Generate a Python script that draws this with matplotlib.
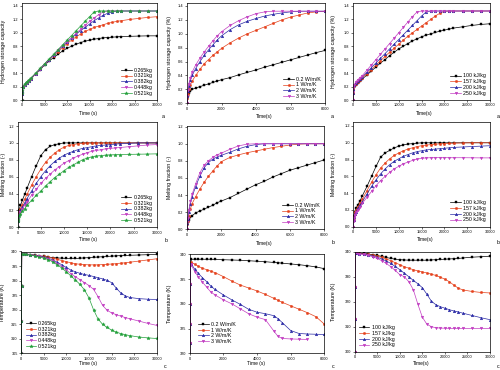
import matplotlib
matplotlib.use('Agg')
import matplotlib.pyplot as plt
from matplotlib.ticker import FormatStrFormatter, FixedLocator

plt.rcParams['font.family'] = ['Liberation Sans', 'DejaVu Sans']
plt.rcParams['axes.linewidth'] = 0.5

nan = float('nan')

# ---------------- legend labels ----------------
mass_labels = ['0.265kg', '0.321kg', '0.382kg', '0.448kg', '0.521kg']
cond_labels = ['0.2 W/m/K', '1 W/m/K', '2 W/m/K', '3 W/m/K']
heat_labels = ['100 kJ/kg', '157 kJ/kg', '200 kJ/kg', '250 kJ/kg']

# ---------------- time grids ----------------
T_LONG = [0, 50, 100, 300, 600, 1000, 1500, 2000, 3000, 4000, 5000, 6000, 7000, 8000,
          9000, 10000, 11000, 12000, 13000, 14000, 15000, 16000, 17000, 18000, 19000,
          20000, 21000, 22000, 24000, 26000, 28000, 30000]
T_SHORT = [0, 25, 50, 100, 200, 300, 500, 750, 1000, 1250, 1500, 1750, 2000, 2500, 3000,
           3500, 4000, 4500, 5000, 5500, 6000, 6500, 7000, 7500, 8000]
T_TEMP = [0, 30, 60, 100, 500, 1000, 2000, 3000, 4000, 5000, 6000, 7000, 8000, 9000,
          10000, 11000, 12000, 13000, 14000, 15000, 16000, 17000, 18000, 19000, 20000,
          21000, 22000, 23000, 24000, 26000, 28000, 30000]
T_TEMP2 = [0, 10, 20, 30, 40, 50, 100, 300, 500, 750, 1000, 1250, 1500, 2000, 2500, 3000,
           3500, 4000, 4500, 5000, 5250, 5500, 6000, 6500, 7000, 7500, 8000]

# ---------------- (a) hydrogen storage capacity ----------------
a1_265 = [0, 0.09, 0.14, 0.19, 0.23, 0.26, 0.29, 0.32, 0.39, 0.45,
          0.52, 0.58, 0.63, 0.68, 0.73, 0.77, 0.80, 0.83, 0.855, 0.875,
          0.89, 0.905, 0.915, 0.925, 0.93, 0.935, 0.94, 0.945, 0.948, 0.952, 0.955, 0.955]
a1_321 = [0, 0.09, 0.14, 0.19, 0.23, 0.26, 0.29, 0.32, 0.39, 0.46,
          0.53, 0.60, 0.66, 0.72, 0.78, 0.84, 0.89, 0.94, 0.98, 1.02,
          1.05, 1.08, 1.10, 1.12, 1.14, 1.155, 1.17, 1.18, 1.20, 1.215, 1.23, 1.24]
a1_382 = [0, 0.09, 0.14, 0.19, 0.23, 0.26, 0.29, 0.32, 0.39, 0.46,
          0.53, 0.60, 0.67, 0.74, 0.80, 0.86, 0.92, 0.98, 1.03, 1.08,
          1.13, 1.18, 1.22, 1.26, 1.29, 1.31, 1.325, 1.325, 1.325, 1.325, 1.325, 1.325]
a1_448 = [0, 0.09, 0.14, 0.19, 0.23, 0.26, 0.29, 0.32, 0.39, 0.46,
          0.53, 0.60, 0.67, 0.74, 0.81, 0.87, 0.93, 0.99, 1.05, 1.11,
          1.17, 1.22, 1.27, 1.31, 1.325, 1.325, 1.325, 1.325, 1.325, 1.325, 1.325, 1.325]
a1_521 = [0, 0.10, 0.15, 0.20, 0.24, 0.27, 0.30, 0.33, 0.40, 0.47,
          0.54, 0.61, 0.68, 0.75, 0.82, 0.89, 0.96, 1.03, 1.10, 1.17,
          1.24, 1.31, 1.325, 1.325, 1.325, 1.325, 1.325, 1.325, 1.325, 1.325, 1.325, 1.325]

a2_02 = [0, 0.06, 0.10, 0.15, 0.18, 0.20, 0.22, 0.24, 0.26, 0.28, 0.30, 0.32, 0.34,
         0.37, 0.41, 0.445, 0.48, 0.52, 0.555, 0.59, 0.625, 0.66, 0.695, 0.73, 0.76]
a2_1 = [0, 0.08, 0.13, 0.20, 0.27, 0.32, 0.40, 0.49, 0.57, 0.63, 0.69, 0.74, 0.79,
        0.87, 0.94, 1.00, 1.05, 1.10, 1.15, 1.20, 1.24, 1.27, 1.30, 1.315, 1.325]
a2_2 = [0, 0.10, 0.17, 0.25, 0.33, 0.40, 0.50, 0.60, 0.69, 0.77, 0.84, 0.91, 0.97,
        1.06, 1.13, 1.18, 1.22, 1.255, 1.28, 1.30, 1.315, 1.325, 1.325, 1.325, 1.325]
a2_3 = [0, 0.11, 0.19, 0.28, 0.37, 0.45, 0.55, 0.65, 0.74, 0.82, 0.90, 0.97, 1.03,
        1.12, 1.19, 1.245, 1.29, 1.315, 1.325, 1.325, 1.325, 1.325, 1.325, 1.325, 1.325]

a3_100 = [0, 0.10, 0.15, 0.20, 0.23, 0.26, 0.29, 0.31, 0.37, 0.43,
          0.49, 0.55, 0.60, 0.66, 0.71, 0.76, 0.80, 0.84, 0.88, 0.91,
          0.94, 0.965, 0.985, 1.005, 1.025, 1.04, 1.055, 1.07, 1.09, 1.11, 1.125, 1.135]
a3_157 = [0, 0.10, 0.16, 0.21, 0.24, 0.27, 0.30, 0.33, 0.39, 0.45,
          0.52, 0.58, 0.65, 0.71, 0.77, 0.83, 0.89, 0.95, 1.00, 1.05,
          1.10, 1.15, 1.20, 1.25, 1.29, 1.32, 1.325, 1.325, 1.325, 1.325, 1.325, 1.325]
a3_200 = [0, 0.11, 0.17, 0.22, 0.25, 0.28, 0.31, 0.34, 0.41, 0.48,
          0.55, 0.62, 0.69, 0.76, 0.83, 0.90, 0.97, 1.04, 1.11, 1.18,
          1.25, 1.31, 1.325, 1.325, 1.325, 1.325, 1.325, 1.325, 1.325, 1.325, 1.325, 1.325]
a3_250 = [0, 0.12, 0.18, 0.23, 0.27, 0.30, 0.33, 0.36, 0.44, 0.52,
          0.60, 0.68, 0.76, 0.84, 0.92, 1.00, 1.08, 1.16, 1.24, 1.31,
          1.325, 1.325, 1.325, 1.325, 1.325, 1.325, 1.325, 1.325, 1.325, 1.325, 1.325, 1.325]

# ---------------- (b) melting fraction ----------------
b1_265 = [0, 0.10, 0.15, 0.21, 0.26, 0.32, 0.39, 0.46, 0.60, 0.73,
          0.85, 0.92, 0.96, 0.98, 0.99, 1.0, 1.0, 1.0, 1.0, 1.0,
          1.0, 1.0, 1.0, 1.0, 1.0, 1.0, 1.0, 1.0, 1.0, 1.0, 1.0, 1.0]
b1_321 = [0, 0.09, 0.13, 0.18, 0.22, 0.27, 0.33, 0.39, 0.50, 0.60,
          0.69, 0.77, 0.83, 0.88, 0.92, 0.95, 0.97, 0.98, 0.99, 0.995,
          1.0, 1.0, 1.0, 1.0, 1.0, 1.0, 1.0, 1.0, 1.0, 1.0, 1.0, 1.0]
b1_382 = [0, 0.08, 0.12, 0.16, 0.20, 0.24, 0.29, 0.34, 0.43, 0.52,
          0.60, 0.67, 0.73, 0.78, 0.82, 0.855, 0.88, 0.90, 0.92, 0.935,
          0.945, 0.955, 0.965, 0.97, 0.975, 0.98, 0.985, 0.99, 0.995, 1.0, 1.0, 1.0]
b1_448 = [0, 0.07, 0.11, 0.15, 0.18, 0.22, 0.26, 0.30, 0.38, 0.45,
          0.52, 0.58, 0.63, 0.68, 0.72, 0.76, 0.79, 0.82, 0.845, 0.865,
          0.885, 0.90, 0.91, 0.92, 0.93, 0.935, 0.94, 0.945, 0.955, 0.965, 0.975, 0.98]
b1_521 = [0, 0.07, 0.10, 0.13, 0.16, 0.19, 0.22, 0.26, 0.32, 0.38,
          0.43, 0.49, 0.54, 0.59, 0.63, 0.67, 0.71, 0.74, 0.77, 0.80,
          0.82, 0.835, 0.845, 0.85, 0.855, 0.858, 0.86, 0.862, 0.864, 0.866, 0.868, 0.87]

b2_02 = [0, 0.05, 0.08, 0.11, 0.14, 0.16, 0.19, 0.215, 0.235, 0.26, 0.28, 0.31, 0.33,
         0.37, 0.42, 0.47, 0.52, 0.56, 0.61, 0.65, 0.69, 0.72, 0.75, 0.78, 0.81]
b2_1 = [0, 0.06, 0.10, 0.16, 0.24, 0.30, 0.38, 0.47, 0.55, 0.62, 0.68, 0.74, 0.79,
        0.84, 0.87, 0.895, 0.915, 0.935, 0.955, 0.97, 0.985, 0.995, 1.0, 1.0, 1.0]
b2_2 = [0, 0.07, 0.12, 0.20, 0.30, 0.38, 0.50, 0.62, 0.72, 0.78, 0.82, 0.845, 0.865,
        0.90, 0.94, 0.97, 0.99, 1.0, 1.0, 1.0, 1.0, 1.0, 1.0, 1.0, 1.0]
b2_3 = [0, 0.08, 0.13, 0.22, 0.33, 0.41, 0.53, 0.66, 0.75, 0.80, 0.84, 0.87, 0.89,
        0.935, 0.975, 0.995, 1.0, 1.0, 1.0, 1.0, 1.0, 1.0, 1.0, 1.0, 1.0]

b3_100 = [0, 0.09, 0.13, 0.18, 0.22, 0.26, 0.31, 0.37, 0.48, 0.60,
          0.72, 0.83, 0.88, 0.91, 0.94, 0.96, 0.975, 0.985, 0.99, 0.995,
          1.0, 1.0, 1.0, 1.0, 1.0, 1.0, 1.0, 1.0, 1.0, 1.0, 1.0, 1.0]
b3_157 = [0, 0.08, 0.12, 0.17, 0.20, 0.24, 0.28, 0.33, 0.43, 0.53,
          0.62, 0.70, 0.76, 0.81, 0.85, 0.88, 0.905, 0.925, 0.94, 0.955,
          0.965, 0.972, 0.978, 0.983, 0.987, 0.99, 0.993, 0.995, 0.998, 1.0, 1.0, 1.0]
b3_200 = [0, 0.08, 0.11, 0.15, 0.18, 0.22, 0.26, 0.30, 0.39, 0.48,
          0.56, 0.63, 0.69, 0.74, 0.78, 0.81, 0.84, 0.86, 0.88, 0.895,
          0.905, 0.915, 0.92, 0.925, 0.93, 0.935, 0.94, 0.945, 0.95, 0.955, 0.96, 0.965]
b3_250 = [0, 0.07, 0.10, 0.14, 0.17, 0.20, 0.24, 0.28, 0.35, 0.42,
          0.49, 0.55, 0.60, 0.65, 0.69, 0.72, 0.75, 0.77, 0.79, 0.805,
          0.815, 0.82, 0.822, 0.823, 0.823, 0.823, 0.822, 0.822, 0.822, 0.821, 0.82, 0.82]

# ---------------- (c) temperature ----------------
c1_265 = [305, 316, 328, 339, 339.1, 339.0, 338.9, 338.7, 338.5, 338.3, 338.1, 337.9,
          337.8, 337.7, 337.6, 337.6, 337.6, 337.7, 337.8, 337.9, 338.0, 338.1, 338.2,
          338.3, 338.4, 338.5, 338.6, 338.65, 338.7, 338.8, 338.9, 339.0]
c1_321 = [305, 316, 328, 339, 339.1, 339.0, 338.9, 338.7, 338.5, 338.3, 338.0, 337.7,
          337.3, 336.9, 336.5, 336.1, 335.8, 335.6, 335.5, 335.4, 335.4, 335.4, 335.5,
          335.6, 335.7, 335.8, 336.0, 336.1, 336.3, 336.7, 337.1, 337.5]
c1_382 = [305, 316, 328, 339, 339.1, 339.0, 338.9, 338.7, 338.4, 338.1, 337.7, 337.1,
          336.3, 335.4, 334.5, 333.6, 333.0, 332.5, 332.1, 331.8, 331.4, 331.0, 330.6,
          330.1, 329.3, 327.5, 325.8, 324.8, 324.2, 323.8, 323.6, 323.5]
c1_448 = [305, 316, 328, 339, 339.1, 339.0, 338.9, 338.6, 338.3, 337.9, 337.4, 336.7,
          335.8, 334.8, 333.6, 332.4, 331.3, 330.3, 329.3, 328.3, 327.0, 324.5, 321.5,
          319.8, 318.9, 318.3, 317.8, 317.3, 316.9, 316.1, 315.3, 314.6]
c1_521 = [305, 316, 328, 339, 339.1, 339.0, 338.8, 338.5, 338.1, 337.7, 337.2, 336.4,
          335.4, 334.3, 333.0, 331.6, 330.2, 328.7, 326.8, 324.0, 320.0, 316.8, 315.0,
          313.9, 313.0, 312.3, 311.8, 311.4, 311.1, 310.6, 310.3, 310.1]

c2_02 = [318, 322, 326, 330, 334, 338, 339.0, 339.0, 339.0, 339.0, 339.0, 339.0, 338.95,
         338.9, 338.85, 338.8, 338.7, 338.6, 338.5, 338.35, 338.3, 338.2, 338.05, 337.9,
         337.7, 337.45, 337.1]
c2_1 = [318, 322, 326, 330, 334, 338, 338.4, 338.0, 337.6, 337.2, 336.9, 336.6, 336.3,
        335.5, 334.6, 333.8, 333.2, 332.6, 331.9, 331.1, 330.7, 330.3, 329.6, 328.9,
        328.2, 327.4, 325.9]
c2_2 = [318, 322, 326, 330, 334, 338, 338.0, 337.0, 336.2, 335.3, 334.5, 333.6, 332.9,
        331.8, 330.8, 329.9, 328.9, 328.3, 328.0, 327.6, 327.0, 326.2, 324.6, 324.0,
        323.9, 323.85, 323.8]
c2_3 = [318, 322, 326, 330, 334, 338, 337.8, 336.5, 335.5, 334.4, 333.4, 332.4, 331.8,
        330.8, 330.0, 329.0, 328.0, 327.3, 326.8, 324.5, 323.4, 323.0, 322.9, 322.85,
        322.8, nan, nan]

c3_100 = [300, 313, 326, 339.5, 339.5, 339.4, 339.3, 339.1, 338.8, 338.5, 338.1, 337.7,
          337.3, 337.0, 336.8, 336.7, 336.6, 336.6, 336.6, 336.6, 336.6, 336.7, 336.8,
          336.9, 337.0, 337.1, 337.2, 337.3, 337.5, 337.8, 338.0, 338.2]
c3_157 = [300, 313, 326, 339.5, 339.4, 339.3, 339.1, 338.9, 338.6, 338.2, 337.7, 337.1,
          336.4, 335.6, 334.8, 334.0, 333.4, 332.8, 332.3, 331.9, 331.5, 331.0, 330.5,
          329.8, 329.0, 328.0, 326.6, 325.4, 324.7, 324.1, 323.7, 323.5]
c3_200 = [300, 313, 326, 339.5, 339.4, 339.2, 339.0, 338.7, 338.3, 337.8, 337.1, 336.3,
          335.3, 334.1, 332.8, 331.4, 330.0, 328.5, 327.2, 325.6, 323.0, 320.2, 318.8,
          318.0, 317.4, 316.8, 316.3, 315.9, 315.4, 314.5, 313.6, 312.8]
c3_250 = [300, 313, 326, 339.5, 339.3, 339.1, 338.9, 338.5, 338.0, 337.3, 336.4, 335.3,
          334.0, 332.5, 330.8, 330.0, 328.0, 324.8, 319.0, 313.8, 311.0, 310.0, 309.6,
          309.45, 309.4, 309.35, 309.3, 309.3, 309.3, 309.3, 309.3, 309.3]

# ---------------- figure ----------------
W, H = 500, 370
fig = plt.figure(figsize=(W / 100, H / 100), dpi=100)

COLORS = ['#000000', '#e5421d', '#2b2ba6', '#c23ec2', '#22a03a']
MARKERS = ['s', 'o', '^', 'v', '*']
MSIZE = [1.6, 1.7, 1.9, 1.9, 2.6]


def add_ax(l, t, r, b):
    return fig.add_axes([l / W, 1 - b / H, (r - l) / W, (b - t) / H])


def panel(box, t, series, labels, xlim, ylim, yticks, xticks, yfmt, ylab, xlab,
          ylab_px, xlab_pos, leg_loc, leg_anchor=None):
    l, tp, r, b = box
    ax = add_ax(l, tp, r, b)
    for i, (s, lab) in enumerate(zip(series, labels)):
        ax.plot(t, s, color=COLORS[i], marker=MARKERS[i], markersize=MSIZE[i],
                markeredgewidth=0.3, linewidth=0.5, label=lab, clip_on=True)
    ax.set_xlim(*xlim)
    ax.set_ylim(*ylim)
    ax.xaxis.set_major_locator(FixedLocator(xticks))
    ax.yaxis.set_major_locator(FixedLocator(yticks))
    ax.yaxis.set_major_formatter(FormatStrFormatter(yfmt))
    ax.tick_params(labelsize=2.8, length=1.5, width=0.4, pad=1, direction='out')
    ax.set_ylabel(ylab, fontsize=3.8)
    ax.yaxis.set_label_coords((ylab_px - l) / (r - l), 0.5)
    ax.yaxis.label.set_va('center')
    ax.set_xlabel(xlab, fontsize=3.5)
    ax.xaxis.set_label_coords((xlab_pos[0] - l) / (r - l), (b - xlab_pos[1]) / (b - tp))
    ax.xaxis.label.set_va('center')
    kw = dict(loc=leg_loc, fontsize=3.8, frameon=False, handlelength=2.0,
              handletextpad=0.4, labelspacing=0.15, borderaxespad=0.4, numpoints=1)
    if leg_anchor is not None:
        kw['bbox_to_anchor'] = leg_anchor
    ax.legend(**kw)
    return ax


xt_long = [0, 5000, 10000, 15000, 20000, 25000, 30000]
xt_short = [0, 2000, 4000, 6000, 8000]
yt_a = [0.0, 0.2, 0.4, 0.6, 0.8, 1.0, 1.2, 1.4]
yt_b = [0.0, 0.2, 0.4, 0.6, 0.8, 1.0, 1.2]

# row 1
panel((22, 2.6, 157, 100), T_LONG, [a1_265, a1_321, a1_382, a1_448, a1_521], mass_labels,
      (0, 30000), (0, 1.45), yt_a, xt_long, '%.1f', 'Hydrogen storage capacity',
      'Time (s)', 4, (88, 113), 'lower right')
panel((187, 2.5, 325, 103.3), T_SHORT, [a2_02, a2_1, a2_2, a2_3], cond_labels,
      (0, 8000), (0, 1.45), yt_a, xt_short, '%.1f', 'Hydrogen storage capacity (%)',
      'Time(s)', 169, (264, 116.5), 'lower right')
panel((353, 2.6, 490, 100), T_LONG, [a3_100, a3_157, a3_200, a3_250], heat_labels,
      (0, 30000), (0, 1.45), yt_a, xt_long, '%.1f', 'Hydrogen storage capacity (%)',
      'Time(s)', 334, (424, 114), 'lower right')

# row 2
panel((17.7, 121.8, 156.7, 227.3), T_LONG, [b1_265, b1_321, b1_382, b1_448, b1_521],
      mass_labels, (0, 30000), (0, 1.25), yt_b, xt_long, '%.1f', 'Melting fraction (-)',
      'Time (s)', 4, (88, 240), 'lower right')
panel((187, 125.8, 324, 229.3), T_SHORT, [b2_02, b2_1, b2_2, b2_3], cond_labels,
      (0, 8000), (0, 1.21), yt_b, xt_short, '%.1f', 'Melting fraction (-)',
      'Time(s)', 169, (264, 244), 'lower right')
panel((353.3, 121.8, 490, 226.7), T_LONG, [b3_100, b3_157, b3_200, b3_250], heat_labels,
      (0, 30000), (0, 1.25), yt_b, xt_long, '%.1f', 'Melting fraction (-)',
      'Time(s)', 333, (425, 239), 'lower right')

# row 3
panel((21.3, 251.5, 156.7, 353.3), T_TEMP, [c1_265, c1_321, c1_382, c1_448, c1_521],
      mass_labels, (0, 30000), (305, 340), [305, 310, 315, 320, 325, 330, 335, 340],
      xt_long, '%d', 'Temperature (K)', 'Time (s)', 2.7, (88, 364), 'lower left')
panel((189.7, 254.3, 324.3, 353.3), T_TEMP2, [c2_02, c2_1, c2_2, c2_3], cond_labels,
      (0, 8000), (320, 340), [320, 325, 330, 335, 340], xt_short, '%d', 'Temperature (K)',
      'Time (s)', 169, (256, 364), 'lower left', (0.03, 0.05))
panel((354.7, 251.7, 490, 351.7), T_TEMP, [c3_100, c3_157, c3_200, c3_250], heat_labels,
      (0, 30000), (300, 340), [300, 310, 320, 330, 340], xt_long, '%d', 'Temperature (K)',
      'Time(s)', 334, (421, 364), 'lower left')

# panel letters
letters = [('a', 163, 117), ('a', 332, 117), ('a', 498, 117),
           ('b', 166, 240), ('b', 333, 243), ('b', 498, 242),
           ('c', 165, 366), ('c', 333, 367), ('c', 498, 367)]
for s, x, y in letters:
    fig.text(x / W, 1 - y / H, s, fontsize=3.8, ha='center', va='center')

fig.savefig('out.png', dpi=100)
